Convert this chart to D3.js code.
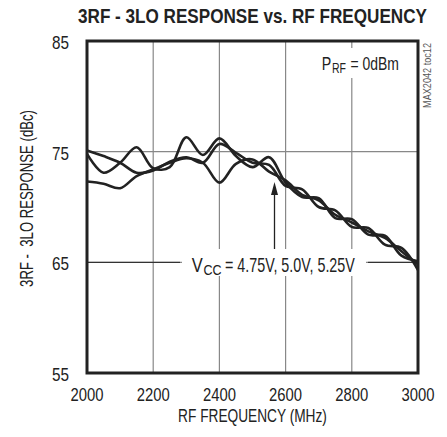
<!DOCTYPE html>
<html><head><meta charset="utf-8">
<script src="https://cdn.jsdelivr.net/npm/d3@7"></script>
<style>body{margin:0;background:#fff}svg{display:block}text{font-family:"Liberation Sans Narrow","Liberation Sans",Arial,sans-serif;fill:#222}</style>
</head><body><svg id="c" width="447" height="437"></svg>
<script>
const freqs = [2000,2050,2100,2150,2200,2250,2300,2350,2400,2450,2500,2550,2600,2650,2700,2750,2800,2850,2900,2950,3000];
const vccA = [74.8,73.1,74.0,75.4,73.5,73.6,76.3,74.7,76.2,74.6,73.6,74.5,72.2,70.9,70.8,69.0,68.9,67.5,67.4,65.6,65.1];
const vccB = [75.1,74.6,74.0,73.1,73.3,74.1,74.5,74.0,75.7,74.9,74.0,73.8,71.9,71.6,70.0,69.7,68.2,68.1,66.6,66.3,64.3];
const vccC = [72.3,72.1,71.7,72.8,73.4,74.0,74.4,74.0,72.2,73.9,74.3,73.2,72.4,71.1,70.6,69.3,68.6,67.8,67.2,66.0,64.8];
const xTicks = [2000,2200,2400,2600,2800,3000];
const yTicks = [55,65,75,85];

const svg = d3.select("#c");
const x = d3.scaleLinear().domain([2000,3000]).range([87,418]);
const y = d3.scaleLinear().domain([55,85]).range([373,41]);

// grid
svg.append("g").selectAll("line").data(xTicks.slice(1,-1)).join("line")
  .attr("x1",d=>x(d)).attr("x2",d=>x(d)).attr("y1",y(85)).attr("y2",y(55))
  .attr("stroke","#888").attr("stroke-width",1.2);
svg.append("g").selectAll("line").data(yTicks.slice(1,-1)).join("line")
  .attr("x1",x(2000)).attr("x2",x(3000)).attr("y1",d=>y(d)).attr("y2",d=>y(d))
  .attr("stroke","#888").attr("stroke-width",1.2);

// curves
const line = d3.line().x((d,i)=>x(freqs[i])).y(d=>y(d)).curve(d3.curveCatmullRom.alpha(0.5));
[vccA,vccB,vccC].forEach(s=>{
  svg.append("path").attr("d",line(s)).attr("fill","none").attr("stroke","#222").attr("stroke-width",2.6);
});

// label boxes
svg.append("rect").attr("x",316).attr("y",48).attr("width",88).attr("height",30).attr("fill","#fff");
svg.append("rect").attr("x",182).attr("y",249).attr("width",184).attr("height",27).attr("fill","#fff");

// leader lines for Vcc label
svg.append("line").attr("x1",x(2000)).attr("x2",180).attr("y1",y(65)).attr("y2",y(65)).attr("stroke","#222").attr("stroke-width",1);
svg.append("line").attr("x1",368).attr("x2",x(3000)).attr("y1",y(65)).attr("y2",y(65)).attr("stroke","#222").attr("stroke-width",1);
// arrow
svg.append("line").attr("x1",274.5).attr("x2",274.5).attr("y1",192).attr("y2",249).attr("stroke","#222").attr("stroke-width",1.3);
svg.append("path").attr("d","M274.5,182 L271,195 L278,195 Z").attr("fill","#222");

// frame
svg.append("rect").attr("x",x(2000)).attr("y",y(85)).attr("width",x(3000)-x(2000)).attr("height",y(55)-y(85))
  .attr("fill","none").attr("stroke","#222").attr("stroke-width",3);

// text squeezed horizontally via transform so its box is true to what is drawn
function txt(xp, yp, size, len, s, anchor, bold){
  const t = svg.append("text").attr("font-size",size).attr("x",0).attr("y",0)
    .attr("text-anchor",anchor||"start").text(s);
  if(bold) t.attr("font-weight","bold");
  const w = t.node().getComputedTextLength();
  t.attr("transform",`translate(${xp},${yp}) scale(${len/w},1)`);
  return t;
}

// tick labels
xTicks.forEach(d=>txt(x(d), 401, 19, 33, String(d), "middle"));
yTicks.forEach(d=>txt(69, y(d)+8, 19, 17, String(d), "end"));

// titles
txt(252.5, 23, 20, 349, "3RF - 3LO RESPONSE vs. RF FREQUENCY", "middle", true);
txt(252.5, 422, 19, 149, "RF FREQUENCY (MHz)", "middle");
const yt = svg.append("text").attr("font-size",19).attr("text-anchor","middle").text("3RF -  3LO RESPONSE (dBc)").style("white-space","pre");
const ytw = yt.node().getComputedTextLength();
yt.attr("transform",`translate(33,198.5) rotate(-90) scale(${177/ytw},1)`);

// PRF label
txt(321.7, 70, 19, 9.5, "P");
txt(332, 73, 14, 14, "RF");
txt(350.5, 70, 19, 48.5, "= 0dBm");

// Vcc label
txt(191.7, 271.5, 20, 11, "V");
txt(203.5, 275, 15, 18, "CC");
txt(225, 271.5, 20, 130, "= 4.75V, 5.0V, 5.25V");

// side note
const sn = svg.append("text").attr("font-size",10).attr("text-anchor","middle").style("fill","#555").text("MAX2042 toc12");
const snw = sn.node().getComputedTextLength();
sn.attr("transform",`translate(431,75.5) rotate(-90) scale(${65/snw},1)`);
</script></body></html>
